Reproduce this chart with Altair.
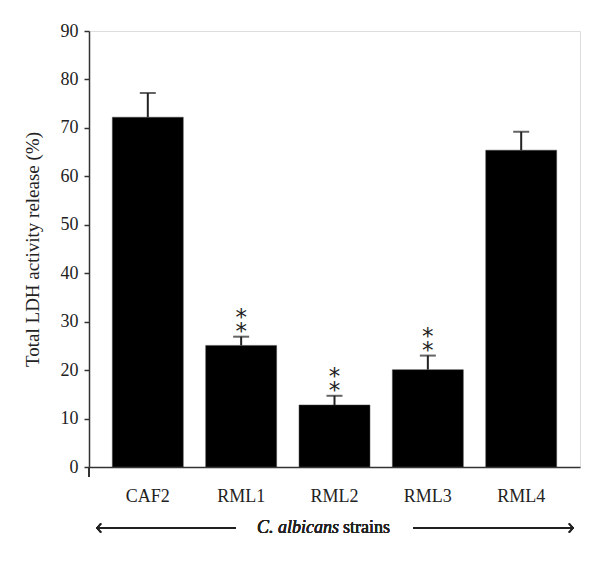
import altair as alt
import pandas as pd

strains = ["CAF2", "RML1", "RML2", "RML3", "RML4"]
means = [72.2, 25.1, 12.8, 20.1, 65.4]
errors = [5.0, 1.8, 1.9, 2.9, 3.8]
sig = ["", "**", "**", "**", ""]

df = pd.DataFrame({
    "strain": strains,
    "mean": means,
    "upper": [m + e for m, e in zip(means, errors)],
    "sig": sig,
})

SERIF = "Liberation Serif"
W, H = 491, 436

x = alt.X("strain:N", sort=strains, title=None,
          scale=alt.Scale(paddingInner=0.24, paddingOuter=0.25),
          axis=alt.Axis(labelAngle=0, ticks=False, labelPadding=20, labelFont=SERIF,
                        labelFontSize=18, labelColor="#222", domainColor="#333",
                        domainWidth=1.5))
y_scale = alt.Scale(domain=[0, 90], nice=False)

bars = alt.Chart(df).mark_bar(color="black", stroke="#444", strokeWidth=0.5).encode(
    x=x,
    y=alt.Y("mean:Q", scale=y_scale, title="Total LDH activity release (%)",
            axis=alt.Axis(values=list(range(0, 91, 10)), grid=False, tickSize=5,
                          tickColor="#333", tickWidth=1.5, domainColor="#333",
                          domainWidth=1.5, labelFont=SERIF, labelFontSize=18,
                          labelColor="#222", labelPadding=6, titleFont=SERIF,
                          titleFontSize=19, titleFontWeight="normal", titleColor="#222",
                          titlePadding=18)),
)

err = alt.Chart(df).mark_rule(color="#222", strokeWidth=2).encode(
    x=alt.X("strain:N", sort=strains),
    y=alt.Y("mean:Q", scale=y_scale),
    y2="upper:Q",
)
caps = alt.Chart(df).mark_tick(color="#222", thickness=2, size=16).encode(
    x=alt.X("strain:N", sort=strains),
    y=alt.Y("upper:Q", scale=y_scale),
)
stars = alt.Chart(df).transform_filter("datum.sig != ''").mark_text(
    text=["*", "*"], font="DejaVu Sans", fontSize=23, lineHeight=14,
    baseline="alphabetic", dy=-12, color="#222"
).encode(x=alt.X("strain:N", sort=strains), y=alt.Y("upper:Q", scale=y_scale))

# decorations below the axis
yext = alt.Chart(df).mark_rule(color="#333", strokeWidth=1.5).encode(
    x=alt.value(0), y=alt.value(H), y2=alt.value(H + 10))
arrow_l = alt.Chart(df).mark_rule(color="#222", strokeWidth=1.5).encode(
    x=alt.value(9), x2=alt.value(147), y=alt.value(497))
arrow_r = alt.Chart(df).mark_rule(color="#222", strokeWidth=1.5).encode(
    x=alt.value(324), x2=alt.value(483), y=alt.value(497))
head_l = alt.Chart(df).mark_point(shape="M0.9,-1L0,0L0.9,1", filled=False, stroke="#222",
                                  strokeWidth=1.5, size=81, opacity=1).encode(
    x=alt.value(8), y=alt.value(497))
head_r = alt.Chart(df).mark_point(shape="M-0.9,-1L0,0L-0.9,1", filled=False, stroke="#222",
                                  strokeWidth=1.5, size=81, opacity=1).encode(
    x=alt.value(484), y=alt.value(497))
title_it = alt.Chart(df).mark_text(text="C. albicans", font=SERIF, fontSize=18,
                                   fontStyle="italic", align="right", baseline="alphabetic",
                                   color="#222").encode(x=alt.value(250), y=alt.value(502))
title_rm = alt.Chart(df).mark_text(text="strains", font=SERIF, fontSize=18,
                                   align="left", baseline="alphabetic",
                                   color="#222").encode(x=alt.value(254), y=alt.value(502))

chart = alt.layer(bars, err, caps, stars, yext, arrow_l, arrow_r, head_l, head_r,
                  title_it, title_rm).properties(
    width=W, height=H,
    autosize=alt.AutoSizeParams(type="none"),
    padding={"left": 81, "top": 23, "right": 10, "bottom": 85},
).configure_view(stroke=None).configure(background="white")

chart.save("out.html", embed_options={"renderer": "svg", "actions": False})
